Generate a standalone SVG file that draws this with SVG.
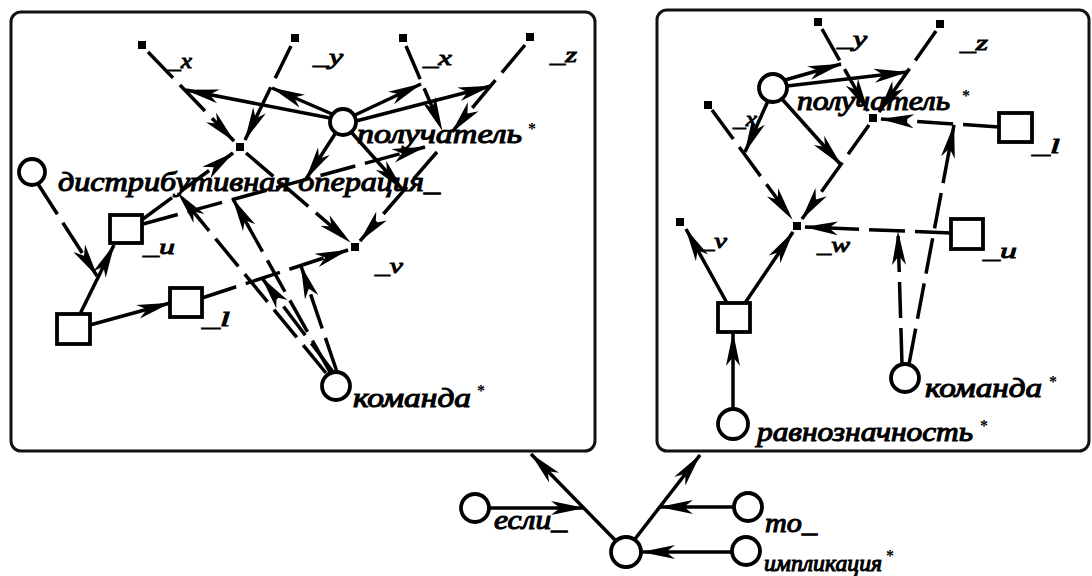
<svg xmlns="http://www.w3.org/2000/svg" width="1092" height="576" viewBox="0 0 1092 576">
<defs>
<marker id="ah" markerUnits="userSpaceOnUse" markerWidth="36" markerHeight="16" refX="33" refY="8" orient="auto"><path d="M0,1 L34,8 L0,15 L9,8 Z" fill="#000"/></marker>
<style>
.box{fill:#fff;stroke:#111;stroke-width:3}
.c{stroke:#000;stroke-width:3.5;fill:none;marker-end:url(#ah)}
.d{stroke-dasharray:36 10}
.n{fill:#fff;stroke:#000;stroke-width:3.8}
.p{fill:#000}
.t{font-family:"Liberation Serif","DejaVu Serif",serif;font-weight:normal;font-style:italic;font-size:28px;fill:#000;stroke:#000;stroke-width:1.1px}
.s{font-family:"Liberation Serif","DejaVu Serif",serif;font-weight:normal;font-style:italic;font-size:22px;fill:#000;stroke:#000;stroke-width:0.9px}
.st{font-family:"Liberation Serif","DejaVu Serif",serif;font-weight:bold;font-size:16px;fill:#000}
</style>
</defs>
<rect width="1092" height="576" fill="#fff"/>
<g id="frames">
<rect id="left-frame" class="box" x="11" y="12" width="584" height="439" rx="10"/>
<rect id="right-frame" class="box" x="657" y="10" width="432" height="441" rx="10"/>
</g>
<g id="connectors">
<line class="c d" x1="148" y1="52" x2="234" y2="141"/>
<line class="c d" x1="291" y1="46" x2="245" y2="140"/>
<line class="c d" x1="406" y1="46" x2="442" y2="130"/>
<line class="c d" x1="525" y1="45" x2="452" y2="132"/>
<line class="c d" x1="143" y1="219" x2="233" y2="153"/>
<line class="c d" x1="143" y1="224" x2="425" y2="147"/>
<line class="c d" x1="246" y1="153" x2="350" y2="242"/>
<line class="c d" x1="437" y1="152" x2="360" y2="241"/>
<line class="c d" x1="202" y1="298" x2="348" y2="250"/>
<line class="c" x1="90" y1="325" x2="170" y2="303"/>
<line class="c" x1="80" y1="314" x2="114" y2="245"/>
<line class="c d" x1="38" y1="184" x2="97" y2="276"/>
<line class="c" x1="330" y1="118" x2="186" y2="90"/>
<line class="c" x1="332" y1="114" x2="272" y2="88"/>
<line class="c" x1="355" y1="115" x2="421" y2="84"/>
<line class="c" x1="356" y1="121" x2="491" y2="86"/>
<line class="c" x1="335" y1="134" x2="306" y2="179"/>
<line class="c" x1="352" y1="133" x2="403" y2="190"/>
<line class="c d" x1="326" y1="373" x2="178" y2="193"/>
<line class="c d" x1="330" y1="372" x2="233" y2="199"/>
<line class="c d" x1="333" y1="372" x2="262" y2="278"/>
<line class="c d" x1="337" y1="372" x2="301" y2="266"/>
<line class="c d" x1="822" y1="29" x2="868" y2="111"/>
<line class="c d" x1="936" y1="31" x2="879" y2="112"/>
<line class="c" x1="785" y1="80" x2="841" y2="64"/>
<line class="c" x1="787" y1="86" x2="907" y2="72"/>
<line class="c" x1="768" y1="101" x2="745" y2="152"/>
<line class="c" x1="782" y1="99" x2="841" y2="165"/>
<line class="c d" x1="869" y1="125" x2="802" y2="219"/>
<line class="c d" x1="712" y1="110" x2="792" y2="219"/>
<line class="c d" x1="999" y1="127" x2="881" y2="119"/>
<line class="c d" x1="951" y1="233" x2="805" y2="227"/>
<line class="c d" x1="902" y1="364" x2="898" y2="232"/>
<line class="c d" x1="909" y1="364" x2="954" y2="125"/>
<line class="c" x1="727" y1="303" x2="686" y2="229"/>
<line class="c" x1="745" y1="303" x2="793" y2="232"/>
<line class="c" x1="733" y1="409" x2="733" y2="333"/>
<line class="c" x1="616" y1="541" x2="531" y2="454"/>
<line class="c" x1="635" y1="539" x2="700" y2="455"/>
<line class="c" x1="489" y1="508" x2="584" y2="508"/>
<line class="c" x1="734" y1="507" x2="660" y2="507"/>
<line class="c" x1="732" y1="552" x2="642" y2="552"/>
</g>
<g id="L-x1"><rect class="p" x="138" y="41" width="8" height="8"/><text class="s" x="168" y="68" textLength="24" lengthAdjust="spacingAndGlyphs">_x</text></g>
<g id="L-y"><rect class="p" x="291" y="34" width="8" height="8"/><text class="s" x="313" y="64" textLength="30" lengthAdjust="spacingAndGlyphs">_y</text></g>
<g id="L-x2"><rect class="p" x="399" y="34" width="8" height="8"/><text class="s" x="423" y="65" textLength="29" lengthAdjust="spacingAndGlyphs">_x</text></g>
<g id="L-z"><rect class="p" x="526" y="33" width="8" height="8"/><text class="s" x="550" y="62" textLength="27" lengthAdjust="spacingAndGlyphs">_z</text></g>
<g id="L-A"><rect class="p" x="236" y="143" width="8" height="8"/></g>
<g id="L-v"><rect class="p" x="351" y="243" width="8" height="8"/><text class="s" x="375" y="273" textLength="28" lengthAdjust="spacingAndGlyphs">_v</text></g>
<g id="L-u"><rect class="n" x="110" y="215" width="32" height="28"/><text class="s" x="143" y="254" textLength="32" lengthAdjust="spacingAndGlyphs">_u</text></g>
<g id="L-sq"><rect class="n" x="57" y="314" width="33" height="30"/></g>
<g id="L-l"><rect class="n" x="170" y="288" width="32" height="29"/><text class="s" x="202" y="326" textLength="28" lengthAdjust="spacingAndGlyphs">_l</text></g>
<g id="L-distr"><circle class="n" cx="32" cy="172" r="13"/><text class="t" x="58" y="191" textLength="382" lengthAdjust="spacingAndGlyphs">дистрибутивная операция_</text></g>
<g id="L-recv"><circle class="n" cx="343" cy="122" r="13"/><text class="t" x="357" y="143" textLength="165" lengthAdjust="spacingAndGlyphs">получатель</text><text class="st" x="528" y="134">*</text></g>
<g id="L-cmd"><circle class="n" cx="336" cy="386" r="14"/><text class="t" x="353" y="407" textLength="118" lengthAdjust="spacingAndGlyphs">команда</text><text class="st" x="477" y="396">*</text></g>
<g id="R-y"><rect class="p" x="814" y="18" width="8" height="8"/><text class="s" x="837" y="46" textLength="30" lengthAdjust="spacingAndGlyphs">_y</text></g>
<g id="R-z"><rect class="p" x="936" y="20" width="8" height="8"/><text class="s" x="960" y="50" textLength="28" lengthAdjust="spacingAndGlyphs">_z</text></g>
<g id="R-C"><rect class="p" x="869" y="114" width="8" height="8"/></g>
<g id="R-x"><rect class="p" x="704" y="101" width="8" height="8"/><text class="s" x="733" y="126" textLength="24" lengthAdjust="spacingAndGlyphs">_x</text></g>
<g id="R-w"><rect class="p" x="793" y="222" width="8" height="8"/><text class="s" x="817" y="252" textLength="33" lengthAdjust="spacingAndGlyphs">_w</text></g>
<g id="R-v"><rect class="p" x="676" y="218" width="8" height="8"/><text class="s" x="700" y="248" textLength="27" lengthAdjust="spacingAndGlyphs">_v</text></g>
<g id="R-l"><rect class="n" x="999" y="113" width="33" height="29"/><text class="s" x="1032" y="153" textLength="28" lengthAdjust="spacingAndGlyphs">_l</text></g>
<g id="R-u"><rect class="n" x="951" y="219" width="32" height="30"/><text class="s" x="983" y="258" textLength="34" lengthAdjust="spacingAndGlyphs">_u</text></g>
<g id="R-sq"><rect class="n" x="718" y="303" width="32" height="29"/></g>
<g id="R-recv"><circle class="n" cx="773" cy="88" r="14"/><text class="t" x="797" y="110" textLength="153" lengthAdjust="spacingAndGlyphs">получатель</text><text class="st" x="962" y="101">*</text></g>
<g id="R-cmd"><circle class="n" cx="905" cy="378" r="14"/><text class="t" x="925" y="397" textLength="117" lengthAdjust="spacingAndGlyphs">команда</text><text class="st" x="1049" y="387">*</text></g>
<g id="R-equiv"><circle class="n" cx="733" cy="424" r="15"/><text class="t" x="757" y="441" textLength="216" lengthAdjust="spacingAndGlyphs">равнозначность</text><text class="st" x="980" y="431">*</text></g>
<g id="impl-node"><circle class="n" cx="626" cy="552" r="15"/></g>
<g id="if"><circle class="n" cx="475" cy="508" r="14"/><text class="t" x="494" y="529" textLength="73" lengthAdjust="spacingAndGlyphs">если_</text></g>
<g id="then"><circle class="n" cx="748" cy="507" r="14"/><text class="t" x="765" y="532" textLength="52" lengthAdjust="spacingAndGlyphs">то_</text></g>
<g id="implication"><circle class="n" cx="746" cy="551" r="14"/><text class="t" x="764" y="571" textLength="118" lengthAdjust="spacingAndGlyphs" style="font-size:24px">импликация</text><text class="st" x="886" y="561">*</text></g>
</svg>
